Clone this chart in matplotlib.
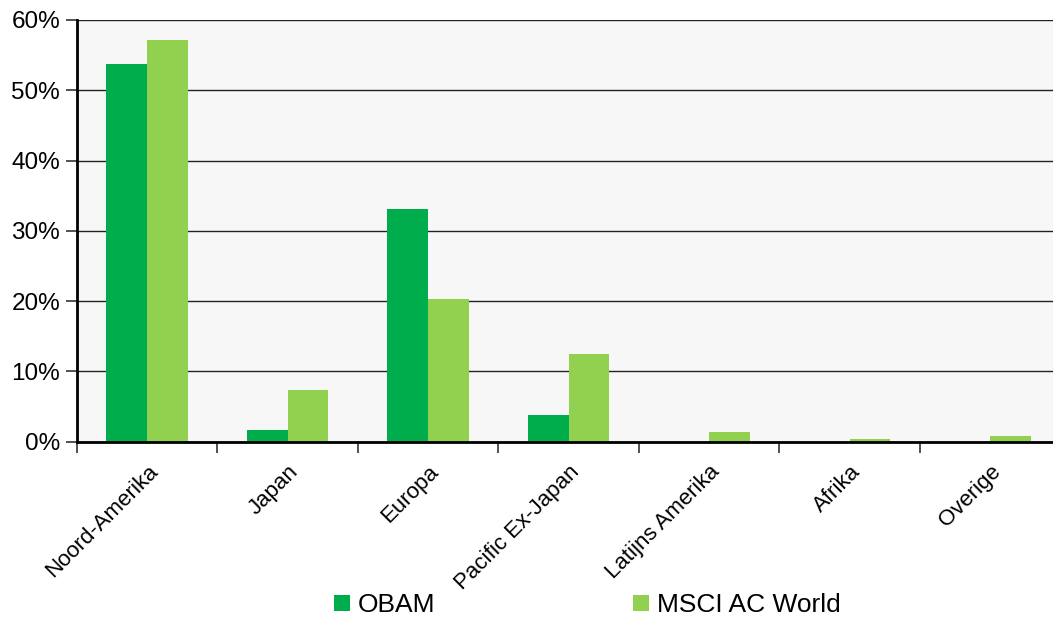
import numpy as np
import matplotlib
matplotlib.use('Agg')
import matplotlib.pyplot as plt
from matplotlib.ticker import FuncFormatter, FixedLocator

plt.rcParams['font.family'] = ['Liberation Sans', 'DejaVu Sans']

# ── data ─────────────────────────────────────────────
regions = ['Noord-Amerika', 'Japan', 'Europa', 'Pacific Ex-Japan',
           'Latijns Amerika', 'Afrika', 'Overige']
obam = [53.8, 1.7, 33.1, 3.8, 0.0, 0.0, 0.0]
msci = [57.2, 7.4, 20.3, 12.5, 1.35, 0.45, 0.8]
series_names = ['OBAM', 'MSCI AC World']
colors = ['#00ad4c', '#92d050']

# ── figure ───────────────────────────────────────────
fig = plt.figure(figsize=(10.53, 6.24), dpi=100)
ax = fig.add_axes([0.073, 0.292, 0.934, 0.676])
ax.set_facecolor('#f7f7f7')

x = np.arange(len(regions))
w = 0.29
b1 = ax.bar(x - w / 2, obam, w, color=colors[0], label=series_names[0], zorder=3)
b2 = ax.bar(x + w / 2, msci, w, color=colors[1], label=series_names[1], zorder=3)

ax.set_xlim(-0.5, len(regions) - 0.5)
ax.set_ylim(0, 60)
ax.set_yticks(np.arange(0, 61, 10))
ax.yaxis.set_major_formatter(FuncFormatter(lambda v, _: f'{v:.0f}%'))
ax.grid(axis='y', color='#222222', lw=1.0, zorder=1)

ax.set_xticks(x)
ax.set_xticklabels(regions, rotation=45, ha='right', rotation_mode='anchor',
                   fontsize=16)
ax.xaxis.set_minor_locator(FixedLocator(np.arange(-0.5, len(regions), 1)))
ax.tick_params(axis='x', which='major', length=0, pad=14)
ax.tick_params(axis='x', which='minor', length=8, width=1.2, color='#333333')
ax.tick_params(axis='y', length=8, width=1.2, color='#333333', labelsize=17.5, pad=4)

for side in ['top', 'right']:
    ax.spines[side].set_visible(False)
for side in ['left', 'bottom']:
    ax.spines[side].set_linewidth(2)
    ax.spines[side].set_color('black')
    ax.spines[side].set_zorder(4)

fig.legend(handles=[b1, b2], labels=series_names, loc='center',
           bbox_to_anchor=(0.558, 0.03), ncol=2, frameon=False,
           fontsize=19, columnspacing=7.5, handlelength=0.6, handleheight=0.6,
           handletextpad=0.3)

fig.savefig('out.png', dpi=100)
